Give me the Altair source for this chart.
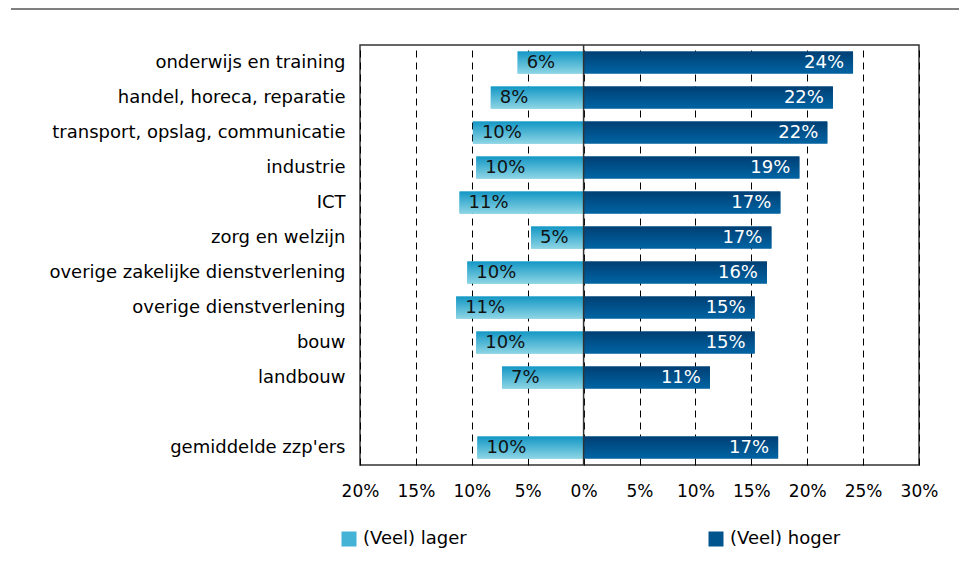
import altair as alt
import pandas as pd

categories = [
    "onderwijs en training",
    "handel, horeca, reparatie",
    "transport, opslag, communicatie",
    "industrie",
    "ICT",
    "zorg en welzijn",
    "overige zakelijke dienstverlening",
    "overige dienstverlening",
    "bouw",
    "landbouw",
    " ",
    "gemiddelde zzp'ers",
]
lager = [5.9, 8.3, 9.9, 9.6, 11.1, 4.7, 10.4, 11.4, 9.6, 7.3, None, 9.5]
hoger = [24.1, 22.3, 21.8, 19.3, 17.6, 16.8, 16.4, 15.3, 15.3, 11.3, None, 17.4]
lager_labels = ["6%", "8%", "10%", "10%", "11%", "5%", "10%", "11%", "10%", "7%", "", "10%"]
hoger_labels = ["24%", "22%", "22%", "19%", "17%", "17%", "16%", "15%", "15%", "11%", "", "17%"]
series_names = ["(Veel) lager", "(Veel) hoger"]
x_ticks = [-20, -15, -10, -5, 0, 5, 10, 15, 20, 25, 30]

rows = []
for c, lo, hi, ll, hl in zip(categories, lager, hoger, lager_labels, hoger_labels):
    if lo is None:
        continue
    rows.append(dict(cat=c, series=series_names[0], start=0, end=-lo, lab=ll))
    rows.append(dict(cat=c, series=series_names[1], start=0, end=hi, lab=hl))
df = pd.DataFrame(rows)
zero_df = pd.DataFrame({"x": [0]})

FONT = "DejaVu Sans"
light = "#45b3d6"
dark = "#00558f"

grad_light = alt.Gradient(
    gradient="linear", x1=0, x2=0, y1=0, y2=1,
    stops=[alt.GradientStop(offset=0, color="#1497c5"),
           alt.GradientStop(offset=1, color="#8cd5e4")],
)
grad_dark = alt.Gradient(
    gradient="linear", x1=0, x2=0, y1=0, y2=1,
    stops=[alt.GradientStop(offset=0, color="#003f74"),
           alt.GradientStop(offset=1, color="#0064a3")],
)

y_enc = alt.Y(
    "cat:N",
    sort=categories,
    scale=alt.Scale(domain=categories, paddingInner=0.37, paddingOuter=0.185),
    axis=alt.Axis(title=None, ticks=False, domain=False, labelPadding=15,
                  labelFontSize=18, labelColor="#000", labelFont=FONT, labelLimit=400),
)
x_enc = alt.X(
    "start:Q",
    scale=alt.Scale(domain=[-20, 30], nice=False, zero=False),
    axis=alt.Axis(values=x_ticks, labelExpr="abs(datum.value) + '%'", title=None,
                  ticks=False, domain=False, grid=True, gridDash=[7, 5],
                  gridColor="#000", gridOpacity=1, labelPadding=18, labelFontSize=17,
                  labelColor="#000", labelFont=FONT, labelFlush=False, labelOverlap=False),
)

base = alt.Chart(df)

legend_bars = base.mark_bar().encode(
    y=y_enc, x=x_enc, x2="end:Q",
    color=alt.Color(
        "series:N",
        scale=alt.Scale(domain=series_names, range=[light, dark]),
        legend=alt.Legend(orient="none", legendX=-20, legendY=485, direction="horizontal",
                          title=None, symbolType="square", symbolSize=225,
                          symbolStrokeWidth=0, labelFontSize=18, labelOffset=5,
                          columnPadding=240, labelColor="#000", labelFont=FONT),
    ),
)

bars_lo = base.transform_filter(alt.datum.series == series_names[0]).mark_bar(
    color=grad_light).encode(y=alt.Y("cat:N", sort=categories), x="start:Q", x2="end:Q")
bars_hi = base.transform_filter(alt.datum.series == series_names[1]).mark_bar(
    color=grad_dark).encode(y=alt.Y("cat:N", sort=categories), x="start:Q", x2="end:Q")

text_lo = base.transform_filter(alt.datum.series == series_names[0]).mark_text(
    align="left", dx=9, fontSize=18, font=FONT, color="#111").encode(
    y=alt.Y("cat:N", sort=categories), x="end:Q", text="lab:N")
text_hi = base.transform_filter(alt.datum.series == series_names[1]).mark_text(
    align="right", dx=-9, fontSize=18, font=FONT, color="#fff").encode(
    y=alt.Y("cat:N", sort=categories), x="end:Q", text="lab:N")

zero_rule = alt.Chart(zero_df).mark_rule(color="#333", strokeWidth=1.5).encode(x="x:Q")

top_line = alt.Chart(zero_df).mark_rule(color="#000", strokeWidth=1).encode(
    x=alt.value(-349), x2=alt.value(610), y=alt.value(-36))

chart = alt.layer(
    legend_bars, bars_lo, bars_hi, zero_rule, text_lo, text_hi, top_line
).properties(
    width=559, height=420,
    padding={"left": 352, "top": 37, "right": 40, "bottom": 90},
    autosize=alt.AutoSizeParams(type="none"),
).configure(font=FONT).configure_view(stroke="#333", strokeWidth=1.5)

chart.save("out.html", embed_options={"renderer": "svg", "actions": False})
